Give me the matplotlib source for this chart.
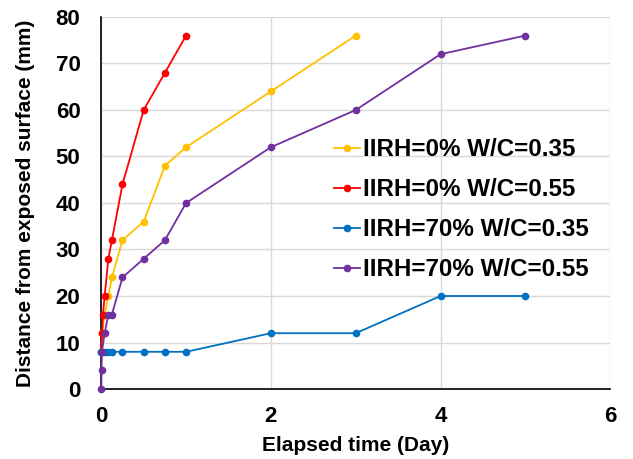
import matplotlib
matplotlib.use("Agg")
import matplotlib.pyplot as plt

plt.rcParams['font.family'] = ['Liberation Sans', 'DejaVu Sans']

labels = ["IIRH=0% W/C=0.35", "IIRH=0% W/C=0.55", "IIRH=70% W/C=0.35", "IIRH=70% W/C=0.55"]
colors = ["#FFC000", "#FF0000", "#0070C0", "#7030A0"]

t_y035 = [0, 0.01, 0.04, 0.083, 0.125, 0.25, 0.5, 0.75, 1, 2, 3]
d_y035 = [8, 12, 16, 20, 24, 32, 36, 48, 52, 64, 76]

t_r055 = [0, 0.01, 0.02, 0.04, 0.083, 0.125, 0.25, 0.5, 0.75, 1]
d_r055 = [8, 12, 16, 20, 28, 32, 44, 60, 68, 76]

t_b035 = [0, 0.04, 0.083, 0.125, 0.25, 0.5, 0.75, 1, 2, 3, 4, 5]
d_b035 = [8, 8, 8, 8, 8, 8, 8, 8, 12, 12, 20, 20]

t_p055 = [0, 0.003, 0.007, 0.04, 0.083, 0.125, 0.25, 0.5, 0.75, 1, 2, 3, 4, 5]
d_p055 = [0, 4, 8, 12, 16, 16, 24, 28, 32, 40, 52, 60, 72, 76]

series = [(t_y035, d_y035), (t_r055, d_r055), (t_b035, d_b035), (t_p055, d_p055)]

fig = plt.figure(figsize=(6.33, 4.59), dpi=100)
ax = fig.add_axes([0.160, 0.1525, 0.804, 0.8105])

for (t, d), c, lab in zip(series, colors, labels):
    ax.plot(t, d, color=c, lw=1.3, marker='o', ms=4.5, label=lab, clip_on=False, zorder=3)

ax.set_xlim(0, 6)
ax.set_ylim(0, 80)
ax.set_xticks([0, 2, 4, 6])
ax.set_yticks(range(0, 81, 10))
ax.grid(True, color='#d9d9d9', lw=1.0)
ax.set_axisbelow(True)
for s in ['top', 'right']:
    ax.spines[s].set_visible(False)
for s in ['left', 'bottom']:
    ax.spines[s].set_linewidth(1.2)
    ax.spines[s].set_color('black')
ax.tick_params(length=0, labelsize=16)
ax.tick_params(axis='x', pad=12)
ax.tick_params(axis='y', pad=15)
for lbl in ax.get_xticklabels() + ax.get_yticklabels():
    lbl.set_fontweight('bold')
ax.set_xlabel("Elapsed time (Day)", fontsize=15, fontweight='bold', labelpad=7)
ax.set_ylabel("Distance from exposed surface (mm)", fontsize=15, fontweight='bold', labelpad=15)

leg = ax.legend(loc='upper left', bbox_to_anchor=(0.438, 0.70), frameon=False,
                prop={'size': 17.4, 'weight': 'bold'}, handlelength=1.1, handletextpad=0.1,
                labelspacing=0.7, borderaxespad=0)

fig.savefig("out.png", dpi=100)
